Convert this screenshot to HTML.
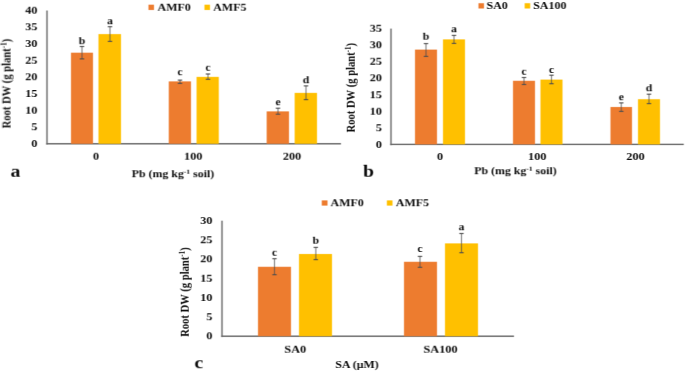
<!DOCTYPE html>
<html><head><meta charset="utf-8"><style>
html,body{margin:0;padding:0;background:#fff;}
body{width:685px;height:371px;overflow:hidden;}
svg{display:block;will-change:transform;}
text{font-family:'Liberation Serif',serif;font-weight:bold;fill:#111;}
</style></head><body>
<svg width="685" height="371" viewBox="0 0 685 371">
<defs><g id="c">
<rect width="685" height="371" fill="#fff"/>
<line x1="47" y1="10.5" x2="47" y2="144.60000000000002" stroke="#6a6a6a" stroke-width="1.4"/>
<line x1="46.2" y1="143.8" x2="341" y2="143.8" stroke="#6a6a6a" stroke-width="1.4"/>
<text transform="translate(37.5,147.0) scale(1.12,1)" font-size="11" text-anchor="end" >0</text>
<text transform="translate(37.5,130.34) scale(1.12,1)" font-size="11" text-anchor="end" >5</text>
<text transform="translate(37.5,113.68000000000002) scale(1.12,1)" font-size="11" text-anchor="end" >10</text>
<text transform="translate(37.5,97.02000000000001) scale(1.12,1)" font-size="11" text-anchor="end" >15</text>
<text transform="translate(37.5,80.36000000000001) scale(1.12,1)" font-size="11" text-anchor="end" >20</text>
<text transform="translate(37.5,63.70000000000002) scale(1.12,1)" font-size="11" text-anchor="end" >25</text>
<text transform="translate(37.5,47.040000000000006) scale(1.12,1)" font-size="11" text-anchor="end" >30</text>
<text transform="translate(37.5,30.380000000000006) scale(1.12,1)" font-size="11" text-anchor="end" >35</text>
<text transform="translate(37.5,13.72000000000001) scale(1.12,1)" font-size="11" text-anchor="end" >40</text>
<rect x="71" y="52.7" width="22" height="91.10000000000001" fill="#ED7D31"/>
<rect x="98.5" y="34.1" width="22.5" height="109.70000000000002" fill="#FFC000"/>
<rect x="168.8" y="81.4" width="22.19999999999999" height="62.400000000000006" fill="#ED7D31"/>
<rect x="196.6" y="76.9" width="22.200000000000017" height="66.9" fill="#FFC000"/>
<rect x="266.7" y="111.4" width="22.30000000000001" height="32.400000000000006" fill="#ED7D31"/>
<rect x="294.7" y="92.9" width="22.30000000000001" height="50.900000000000006" fill="#FFC000"/>
<line x1="82" y1="46.5" x2="82" y2="58.9" stroke="#505050" stroke-width="0.8"/>
<line x1="79.8" y1="46.5" x2="84.2" y2="46.5" stroke="#505050" stroke-width="1.1"/>
<line x1="79.8" y1="58.9" x2="84.2" y2="58.9" stroke="#505050" stroke-width="1.1"/>
<text transform="translate(82,44.2) scale(1.12,1)" font-size="10.5" text-anchor="middle" >b</text>
<line x1="110" y1="26.7" x2="110" y2="41.4" stroke="#505050" stroke-width="0.8"/>
<line x1="107.8" y1="26.7" x2="112.2" y2="26.7" stroke="#505050" stroke-width="1.1"/>
<line x1="107.8" y1="41.4" x2="112.2" y2="41.4" stroke="#505050" stroke-width="1.1"/>
<text transform="translate(110,24.2) scale(1.12,1)" font-size="10.5" text-anchor="middle" >a</text>
<line x1="180" y1="80.1" x2="180" y2="83.4" stroke="#505050" stroke-width="0.8"/>
<line x1="177.8" y1="80.1" x2="182.2" y2="80.1" stroke="#505050" stroke-width="1.1"/>
<line x1="177.8" y1="83.4" x2="182.2" y2="83.4" stroke="#505050" stroke-width="1.1"/>
<text transform="translate(180,75.2) scale(1.12,1)" font-size="10.5" text-anchor="middle" >c</text>
<line x1="208" y1="74.0" x2="208" y2="79.3" stroke="#505050" stroke-width="0.8"/>
<line x1="205.8" y1="74.0" x2="210.2" y2="74.0" stroke="#505050" stroke-width="1.1"/>
<line x1="205.8" y1="79.3" x2="210.2" y2="79.3" stroke="#505050" stroke-width="1.1"/>
<text transform="translate(208,70.7) scale(1.12,1)" font-size="10.5" text-anchor="middle" >c</text>
<line x1="278" y1="108.2" x2="278" y2="114.2" stroke="#505050" stroke-width="0.8"/>
<line x1="275.8" y1="108.2" x2="280.2" y2="108.2" stroke="#505050" stroke-width="1.1"/>
<line x1="275.8" y1="114.2" x2="280.2" y2="114.2" stroke="#505050" stroke-width="1.1"/>
<text transform="translate(278,105.2) scale(1.12,1)" font-size="10.5" text-anchor="middle" >e</text>
<line x1="306" y1="85.9" x2="306" y2="99.6" stroke="#505050" stroke-width="0.8"/>
<line x1="303.8" y1="85.9" x2="308.2" y2="85.9" stroke="#505050" stroke-width="1.1"/>
<line x1="303.8" y1="99.6" x2="308.2" y2="99.6" stroke="#505050" stroke-width="1.1"/>
<text transform="translate(306,83.4) scale(1.12,1)" font-size="10.5" text-anchor="middle" >d</text>
<text transform="translate(96,159.5) scale(1.12,1)" font-size="11" text-anchor="middle" >0</text>
<text transform="translate(193.2,159.5) scale(1.12,1)" font-size="11" text-anchor="middle" >100</text>
<text transform="translate(292,159.5) scale(1.12,1)" font-size="11" text-anchor="middle" >200</text>
<text transform="translate(173,177.3) scale(1.08,1)" font-size="11" text-anchor="middle" >Pb (mg kg<tspan font-size="7" dy="-3.5">-1</tspan><tspan dy="3.5"> soil)</tspan></text>
<text transform="translate(15.5,176.5) scale(1.12,1)" font-size="17.6" text-anchor="middle" >a</text>
<rect x="148.5" y="4.7" width="5.5" height="5.3" fill="#ED7D31"/>
<text transform="translate(157.5,10.8) scale(1.09,1)" font-size="11" text-anchor="start" >AMF0</text>
<rect x="204.5" y="4.7" width="5.5" height="5.3" fill="#FFC000"/>
<text transform="translate(213.2,10.8) scale(1.09,1)" font-size="11" text-anchor="start" >AMF5</text>
<text transform="translate(10.5,83.6) scale(1.12,1) rotate(-90)" font-size="10.6" text-anchor="middle">Root DW (g plant<tspan font-size="7" dy="-3.5">-1</tspan><tspan dy="3.5">)</tspan></text>
<line x1="391" y1="28.6" x2="391" y2="145.20000000000002" stroke="#6a6a6a" stroke-width="1.4"/>
<line x1="390.2" y1="144.4" x2="683.8" y2="144.4" stroke="#6a6a6a" stroke-width="1.4"/>
<text transform="translate(382,148.0) scale(1.12,1)" font-size="11" text-anchor="end" >0</text>
<text transform="translate(382,131.37) scale(1.12,1)" font-size="11" text-anchor="end" >5</text>
<text transform="translate(382,114.74000000000001) scale(1.12,1)" font-size="11" text-anchor="end" >10</text>
<text transform="translate(382,98.11) scale(1.12,1)" font-size="11" text-anchor="end" >15</text>
<text transform="translate(382,81.48) scale(1.12,1)" font-size="11" text-anchor="end" >20</text>
<text transform="translate(382,64.85000000000001) scale(1.12,1)" font-size="11" text-anchor="end" >25</text>
<text transform="translate(382,48.220000000000006) scale(1.12,1)" font-size="11" text-anchor="end" >30</text>
<text transform="translate(382,31.59000000000001) scale(1.12,1)" font-size="11" text-anchor="end" >35</text>
<rect x="415" y="49.6" width="22" height="94.80000000000001" fill="#ED7D31"/>
<rect x="443" y="39.4" width="22" height="105.0" fill="#FFC000"/>
<rect x="513" y="80.8" width="22" height="63.60000000000001" fill="#ED7D31"/>
<rect x="540.5" y="79.6" width="22.0" height="64.80000000000001" fill="#FFC000"/>
<rect x="610.5" y="107" width="21.5" height="37.400000000000006" fill="#ED7D31"/>
<rect x="638" y="99.2" width="22" height="45.2" fill="#FFC000"/>
<line x1="426" y1="43.6" x2="426" y2="56.4" stroke="#505050" stroke-width="0.8"/>
<line x1="423.8" y1="43.6" x2="428.2" y2="43.6" stroke="#505050" stroke-width="1.1"/>
<line x1="423.8" y1="56.4" x2="428.2" y2="56.4" stroke="#505050" stroke-width="1.1"/>
<text transform="translate(426,39.6) scale(1.12,1)" font-size="10.5" text-anchor="middle" >b</text>
<line x1="454" y1="35.4" x2="454" y2="43.4" stroke="#505050" stroke-width="0.8"/>
<line x1="451.8" y1="35.4" x2="456.2" y2="35.4" stroke="#505050" stroke-width="1.1"/>
<line x1="451.8" y1="43.4" x2="456.2" y2="43.4" stroke="#505050" stroke-width="1.1"/>
<text transform="translate(454,32.3) scale(1.12,1)" font-size="10.5" text-anchor="middle" >a</text>
<line x1="524" y1="77.5" x2="524" y2="84.5" stroke="#505050" stroke-width="0.8"/>
<line x1="521.8" y1="77.5" x2="526.2" y2="77.5" stroke="#505050" stroke-width="1.1"/>
<line x1="521.8" y1="84.5" x2="526.2" y2="84.5" stroke="#505050" stroke-width="1.1"/>
<text transform="translate(524,74.6) scale(1.12,1)" font-size="10.5" text-anchor="middle" >c</text>
<line x1="551.5" y1="75.2" x2="551.5" y2="83.7" stroke="#505050" stroke-width="0.8"/>
<line x1="549.3" y1="75.2" x2="553.7" y2="75.2" stroke="#505050" stroke-width="1.1"/>
<line x1="549.3" y1="83.7" x2="553.7" y2="83.7" stroke="#505050" stroke-width="1.1"/>
<text transform="translate(551.5,72.9) scale(1.12,1)" font-size="10.5" text-anchor="middle" >c</text>
<line x1="621.3" y1="102.9" x2="621.3" y2="111.4" stroke="#505050" stroke-width="0.8"/>
<line x1="619.0999999999999" y1="102.9" x2="623.5" y2="102.9" stroke="#505050" stroke-width="1.1"/>
<line x1="619.0999999999999" y1="111.4" x2="623.5" y2="111.4" stroke="#505050" stroke-width="1.1"/>
<text transform="translate(621.3,100.1) scale(1.12,1)" font-size="10.5" text-anchor="middle" >e</text>
<line x1="649" y1="94.2" x2="649" y2="103.6" stroke="#505050" stroke-width="0.8"/>
<line x1="646.8" y1="94.2" x2="651.2" y2="94.2" stroke="#505050" stroke-width="1.1"/>
<line x1="646.8" y1="103.6" x2="651.2" y2="103.6" stroke="#505050" stroke-width="1.1"/>
<text transform="translate(649,91.4) scale(1.12,1)" font-size="10.5" text-anchor="middle" >d</text>
<text transform="translate(440,160) scale(1.12,1)" font-size="11" text-anchor="middle" >0</text>
<text transform="translate(537.2,160) scale(1.12,1)" font-size="11" text-anchor="middle" >100</text>
<text transform="translate(635.5,160) scale(1.12,1)" font-size="11" text-anchor="middle" >200</text>
<text transform="translate(515.5,174.3) scale(1.08,1)" font-size="11" text-anchor="middle" >Pb (mg kg<tspan font-size="7" dy="-3.5">-1</tspan><tspan dy="3.5"> soil)</tspan></text>
<text transform="translate(368.5,176.8) scale(1.12,1)" font-size="17.6" text-anchor="middle" >b</text>
<rect x="478.5" y="3.2" width="5.5" height="5.3" fill="#ED7D31"/>
<text transform="translate(486.5,9.0) scale(1.09,1)" font-size="11" text-anchor="start" >SA0</text>
<rect x="524.7" y="3.2" width="5.5" height="5.3" fill="#FFC000"/>
<text transform="translate(533.2,9.0) scale(1.09,1)" font-size="11" text-anchor="start" >SA100</text>
<text transform="translate(354.5,87.7) scale(1.12,1) rotate(-90)" font-size="10.6" text-anchor="middle">Root DW (g plant<tspan font-size="7" dy="-3.5">-1</tspan><tspan dy="3.5">)</tspan></text>
<line x1="222" y1="220.7" x2="222" y2="337.0" stroke="#6a6a6a" stroke-width="1.4"/>
<line x1="221.2" y1="336.2" x2="514" y2="336.2" stroke="#6a6a6a" stroke-width="1.4"/>
<text transform="translate(212.5,339.4) scale(1.12,1)" font-size="11" text-anchor="end" >0</text>
<text transform="translate(212.5,320.16999999999996) scale(1.12,1)" font-size="11" text-anchor="end" >5</text>
<text transform="translate(212.5,300.94) scale(1.12,1)" font-size="11" text-anchor="end" >10</text>
<text transform="translate(212.5,281.71) scale(1.12,1)" font-size="11" text-anchor="end" >15</text>
<text transform="translate(212.5,262.47999999999996) scale(1.12,1)" font-size="11" text-anchor="end" >20</text>
<text transform="translate(212.5,243.24999999999997) scale(1.12,1)" font-size="11" text-anchor="end" >25</text>
<text transform="translate(212.5,224.01999999999998) scale(1.12,1)" font-size="11" text-anchor="end" >30</text>
<rect x="258" y="266.8" width="33" height="69.39999999999998" fill="#ED7D31"/>
<rect x="299" y="254" width="33" height="82.19999999999999" fill="#FFC000"/>
<rect x="404" y="261.8" width="33" height="74.39999999999998" fill="#ED7D31"/>
<rect x="445" y="243.4" width="33" height="92.79999999999998" fill="#FFC000"/>
<line x1="274.5" y1="258.7" x2="274.5" y2="274.7" stroke="#505050" stroke-width="0.8"/>
<line x1="272.3" y1="258.7" x2="276.7" y2="258.7" stroke="#505050" stroke-width="1.1"/>
<line x1="272.3" y1="274.7" x2="276.7" y2="274.7" stroke="#505050" stroke-width="1.1"/>
<text transform="translate(274.5,255.8) scale(1.12,1)" font-size="10.5" text-anchor="middle" >c</text>
<line x1="315.8" y1="247.4" x2="315.8" y2="259.6" stroke="#505050" stroke-width="0.8"/>
<line x1="313.6" y1="247.4" x2="318.0" y2="247.4" stroke="#505050" stroke-width="1.1"/>
<line x1="313.6" y1="259.6" x2="318.0" y2="259.6" stroke="#505050" stroke-width="1.1"/>
<text transform="translate(315.8,243.6) scale(1.12,1)" font-size="10.5" text-anchor="middle" >b</text>
<line x1="420" y1="256.4" x2="420" y2="267.3" stroke="#505050" stroke-width="0.8"/>
<line x1="417.8" y1="256.4" x2="422.2" y2="256.4" stroke="#505050" stroke-width="1.1"/>
<line x1="417.8" y1="267.3" x2="422.2" y2="267.3" stroke="#505050" stroke-width="1.1"/>
<text transform="translate(420,252) scale(1.12,1)" font-size="10.5" text-anchor="middle" >c</text>
<line x1="461.5" y1="233.5" x2="461.5" y2="252.7" stroke="#505050" stroke-width="0.8"/>
<line x1="459.3" y1="233.5" x2="463.7" y2="233.5" stroke="#505050" stroke-width="1.1"/>
<line x1="459.3" y1="252.7" x2="463.7" y2="252.7" stroke="#505050" stroke-width="1.1"/>
<text transform="translate(461.5,230.1) scale(1.12,1)" font-size="10.5" text-anchor="middle" >a</text>
<text transform="translate(295.3,352.5) scale(1.12,1)" font-size="11" text-anchor="middle" >SA0</text>
<text transform="translate(440.5,352.5) scale(1.12,1)" font-size="11" text-anchor="middle" >SA100</text>
<text transform="translate(357,368) scale(1.08,1)" font-size="11" text-anchor="middle" >SA (µM)</text>
<text transform="translate(198.8,368.4) scale(1.12,1)" font-size="17.6" text-anchor="middle" >c</text>
<rect x="321.8" y="200.4" width="5.699999999999989" height="5.199999999999989" fill="#ED7D31"/>
<text transform="translate(330.5,206.1) scale(1.09,1)" font-size="11" text-anchor="start" >AMF0</text>
<rect x="386.9" y="200.4" width="5.600000000000023" height="5.199999999999989" fill="#FFC000"/>
<text transform="translate(395.8,206.1) scale(1.09,1)" font-size="11" text-anchor="start" >AMF5</text>
<text transform="translate(188.5,292.1) scale(1.12,1) rotate(-90)" font-size="10.6" text-anchor="middle">Root DW (g plant<tspan font-size="7" dy="-3.5">-1</tspan><tspan dy="3.5">)</tspan></text>
</g>
<g id="h">
<use href="#c"/>
<use href="#c" transform="translate(-0.65,0)" opacity="0.3333"/>
<use href="#c" transform="translate(0.65,0)" opacity="0.25"/>
</g></defs>
<use href="#h"/>
<use href="#h" transform="translate(0,-0.4)" opacity="0.3333"/>
<use href="#h" transform="translate(0,0.4)" opacity="0.25"/>
</svg>
</body></html>
